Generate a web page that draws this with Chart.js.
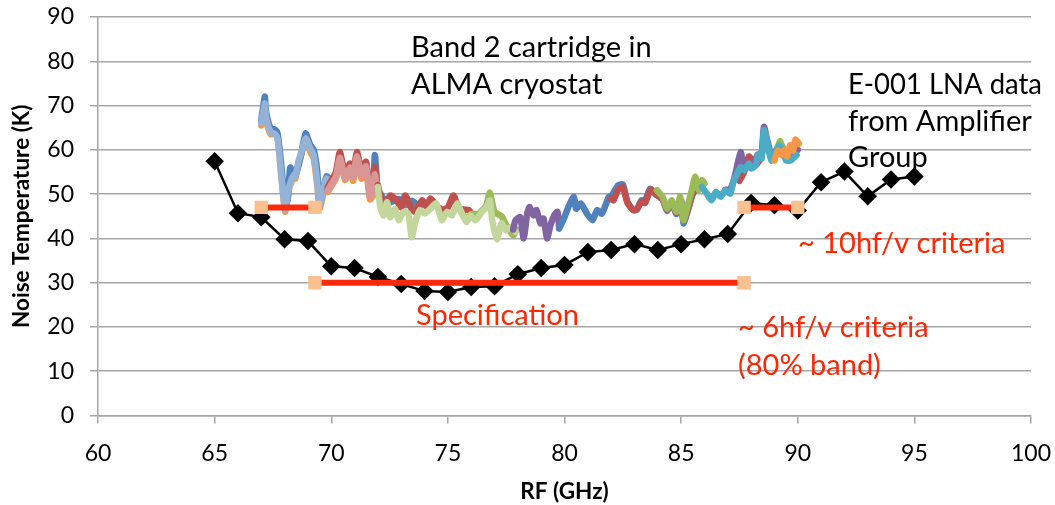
<!DOCTYPE html>
<html>
<head>
<meta charset="utf-8">
<script src="https://cdn.jsdelivr.net/npm/chart.js@4.4.1/dist/chart.umd.min.js"></script>
<style>
  html, body { margin: 0; padding: 0; background: #fff; }
  canvas { display: block; }
</style>
</head>
<body>
<canvas id="grafico" width="1055" height="505"></canvas>
<script>
// --- DADOS ---
// dados do LNA E-001 (losangos pretos)
const lnaFreq = [65, 66, 67, 68, 69, 70, 71, 72, 73, 74, 75, 76, 77, 78, 79, 80, 81, 82, 83, 84, 85, 86, 87, 88, 89, 90, 91, 92, 93, 94, 95];
const lnaTemp = [57.4, 45.7, 44.8, 39.8, 39.4, 33.7, 33.3, 31.3, 29.7, 28.1, 27.9, 29.0, 29.2, 31.9, 33.3, 34.0, 36.9, 37.4, 38.7, 37.4, 38.7, 39.8, 41.0, 48.0, 47.5, 46.3, 52.7, 55.1, 49.5, 53.3, 54.0];

// linhas de especificação
const crit10Freq1 = [67.0, 69.3];
const crit10Freq2 = [87.7, 90.0];
const crit10Temp = [47, 47];
const specFreq = [69.3, 87.7];
const specTemp = [30, 30];

// medidas do cartucho (traços coloridos)
const f1 = [67.0, 67.15, 67.2, 67.4, 67.6, 67.7, 67.85, 67.96, 68.03, 68.15, 68.24, 68.4, 68.46, 68.6, 68.7, 68.9, 69.1, 69.25, 69.4, 69.5, 69.67, 69.8, 70.03];
const azul1 = [66.7, 72.0, 68.7, 64.9, 64.5, 63.7, 57.0, 50.6, 46.8, 49.5, 56.0, 54.5, 54.3, 56.5, 58.8, 63.7, 61.1, 60.0, 55.1, 47.6, 51.3, 54.0, 52.8];
const azulClaro1 = [66.0, 70.5, 67.5, 64.0, 63.5, 62.5, 55.0, 49.0, 46.5, 50.5, 52.5, 54.3, 54.0, 57.5, 59.2, 62.6, 60.3, 58.8, 52.8, 47.6, 51.0, 53.5, 52.5];
const laranja1 = [65.5, 70.0, 67.0, 63.5, 63.8, 63.0, 54.5, 48.5, 46.0, 50.0, 52.0, 53.8, 53.5, 57.0, 58.6, 62.0, 59.6, 58.0, 52.0, 46.8, 50.2, 53.0, 52.0];

const f2 = [69.85, 70.0, 70.2, 70.37, 70.59, 70.8, 70.94, 71.1, 71.3, 71.49, 71.66, 71.8, 71.87, 71.97];
const vermelho2 = [51.6, 53.0, 55.0, 59.5, 54.6, 56.9, 54.6, 59.5, 55.4, 57.3, 50.1, 51.6, 56.1, 51.6];
const rosa2 = [50.8, 52.2, 54.0, 58.2, 53.6, 56.0, 53.8, 58.5, 54.2, 56.3, 49.5, 50.8, 54.5, 50.5];
const azul2 = [51.0, 52.5, 54.5, 58.5, 54.0, 56.0, 54.0, 59.0, 55.0, 57.0, 50.5, 52.0, 58.8, 51.8];
const laranja2 = [50.5, 51.8, 53.5, 57.8, 53.2, 55.5, 53.0, 58.0, 53.5, 55.5, 48.8, 50.0, 54.0, 49.8];

const f3 = [72.0, 72.1, 72.25, 72.39, 72.53, 72.74, 72.89, 73.1, 73.3, 73.45, 73.6, 73.8, 74.0, 74.25, 74.5, 74.74, 74.96, 75.17, 75.4, 75.6, 75.8, 75.96, 76.17, 76.3, 76.46, 76.67, 76.8, 76.9, 77.1, 77.3, 77.5, 77.7, 77.9];
const verdeClaro3 = [51.6, 47.1, 45.2, 48.2, 44.8, 46.7, 44.1, 46.0, 45.6, 40.3, 43.7, 46.4, 45.6, 46.7, 47.9, 44.1, 46.0, 45.2, 47.9, 45.6, 43.7, 45.2, 44.1, 44.8, 46.0, 47.1, 48.6, 44.1, 39.8, 43.4, 41.8, 42.6, 41.5];
const f3v = [72.0, 72.1, 72.3, 72.53, 72.8, 73.0, 73.17, 73.4, 73.6, 73.9, 74.1, 74.25, 74.5, 74.75, 75.0, 75.24, 75.45, 75.7, 75.9, 76.1];
const vermelho3 = [52.0, 49.7, 47.5, 49.7, 48.6, 47.0, 49.7, 47.1, 46.0, 48.6, 47.1, 49.0, 47.5, 46.5, 47.0, 49.7, 47.0, 46.5, 46.4, 45.0];
const f3a = [72.0, 72.4, 72.9, 73.2, 73.45, 73.8];
const azul3 = [51.0, 48.0, 48.9, 47.5, 48.5, 47.0];
const f3g = [75.5, 75.8, 76.0, 76.3, 76.5, 76.65, 76.8, 77.0, 77.3, 77.5, 77.8, 77.95];
const verde3 = [46.5, 44.5, 45.5, 45.5, 46.5, 47.5, 50.3, 46.0, 45.0, 43.0, 40.7, 42.0];

const f4 = [77.8, 77.9, 78.1, 78.25, 78.4, 78.5, 78.67, 78.8, 78.97, 79.1, 79.25, 79.4, 79.56, 79.7, 79.77];
const roxo4 = [42.0, 44.1, 44.8, 40.0, 45.6, 47.1, 45.2, 46.4, 43.4, 44.5, 40.0, 43.0, 45.2, 46.0, 42.6];

const f5 = [79.77, 80.0, 80.2, 80.4, 80.5, 80.7, 80.96, 81.2, 81.4, 81.6, 81.9, 82.03, 82.3, 82.5, 82.7, 82.95, 83.1, 83.3, 83.45, 83.67, 83.9, 84.2, 84.4, 84.6, 84.8, 85.0, 85.1, 85.3, 85.5, 85.7, 85.9];
const azul5 = [42.2, 44.8, 47.5, 49.4, 46.7, 47.9, 45.6, 44.1, 46.4, 45.6, 49.4, 49.7, 52.0, 52.2, 48.2, 46.4, 46.5, 48.6, 48.5, 51.2, 50.0, 49.0, 46.2, 48.0, 45.5, 48.5, 43.4, 46.5, 50.0, 51.5, 52.5];
const f6 = [82.0, 82.1, 82.3, 82.5, 82.7, 82.95, 83.1, 83.3, 83.45, 83.7, 83.95, 84.2, 84.4, 84.6, 84.8, 85.0, 85.1, 85.3, 85.5, 85.7, 85.9];
const vermelho6 = [49.0, 48.6, 51.0, 51.6, 48.0, 46.4, 46.5, 48.3, 48.0, 51.0, 49.8, 48.8, 46.5, 48.2, 45.8, 48.6, 44.0, 46.8, 50.3, 51.8, 52.8];
const f7 = [83.96, 84.2, 84.4, 84.6, 84.8, 84.96, 85.1, 85.25, 85.46, 85.6, 85.75, 85.9, 86.0];
const verde7 = [50.9, 49.4, 46.7, 48.6, 46.0, 49.4, 44.1, 46.7, 50.9, 53.9, 50.9, 53.1, 52.4];

const f8 = [85.9, 86.1, 86.3, 86.5, 86.7, 86.9, 87.1, 87.24, 87.4, 87.55, 87.7, 87.9, 88.0, 88.2, 88.3, 88.45, 88.55, 88.7, 88.87, 89.0, 89.2, 89.35, 89.5, 89.7, 89.95];
const ciano8 = [51.6, 50.1, 48.6, 50.5, 49.4, 50.9, 50.1, 52.7, 54.6, 56.1, 55.4, 56.9, 55.8, 56.5, 58.8, 58.0, 64.5, 61.4, 57.6, 59.1, 61.0, 59.9, 57.6, 57.6, 58.8];
const f9 = [86.9, 87.1, 87.3, 87.55, 87.7, 87.9, 88.1, 88.3, 88.45, 88.55, 88.7, 88.9, 89.1, 89.3, 89.5, 89.7, 90.0];
const roxo9 = [51.0, 51.0, 54.0, 59.5, 55.5, 56.5, 57.0, 59.0, 59.0, 65.2, 62.0, 58.5, 60.0, 61.0, 59.0, 58.0, 60.0];
const f9v = [87.5, 87.7, 87.9, 88.0, 88.2, 88.4];
const vermelho9 = [53.0, 55.0, 58.5, 58.0, 56.5, 58.0];
const f9g = [88.7, 88.9, 89.1, 89.25, 89.4];
const verde9 = [60.0, 58.5, 60.0, 62.0, 59.0];
const f10 = [89.0, 89.15, 89.3, 89.45, 89.55, 89.67, 89.8, 89.9, 90.05];
const laranja10 = [57.6, 59.8, 58.8, 60.0, 58.5, 61.0, 59.8, 62.3, 61.4];

// paleta padrão do Excel
const COR = {
    azul: '#4F81BD', vermelho: '#C0504D', verde: '#9BBB59', roxo: '#8064A2',
    ciano: '#4BACC6', laranja: '#F79646', azulClaro: '#95B3D7', rosa: '#D99694',
    verdeClaro: '#C3D69B'
};

const pares = (xs, ys) => xs.map((x, i) => ({ x: x, y: ys[i] }));

function traco(xs, ys, cor, ordem) {
    return {
        data: pares(xs, ys),
        borderColor: cor,
        borderWidth: 6.5,
        pointRadius: 0,
        tension: 0.2,
        borderJoinStyle: 'round',
        borderCapStyle: 'round',
        order: ordem
    };
}

function criterio(xs, ys) {
    return {
        data: pares(xs, ys),
        borderColor: '#FF2A0A',
        borderWidth: 6,
        pointStyle: 'rect',
        pointRadius: 9.5,
        pointBackgroundColor: '#FAC090',
        pointBorderColor: '#FAC090',
        pointBorderWidth: 0,
        order: 0
    };
}

const datasets = [
    criterio(crit10Freq1, crit10Temp),
    criterio(crit10Freq2, crit10Temp),
    criterio(specFreq, specTemp),
    {
        data: pares(lnaFreq, lnaTemp),
        borderColor: '#000',
        borderWidth: 2.5,
        pointStyle: 'rectRot',
        pointRadius: 7.5,
        pointBackgroundColor: '#000',
        pointBorderColor: '#000',
        order: 1
    },
    traco(f10, laranja10, COR.laranja, 2),
    traco(f8, ciano8, COR.ciano, 3),
    traco(f9g, verde9, COR.verde, 4),
    traco(f9, roxo9, COR.roxo, 5),
    traco(f9v, vermelho9, COR.vermelho, 6),
    traco(f7, verde7, COR.verde, 7),
    traco(f6, vermelho6, COR.vermelho, 8),
    traco(f5, azul5, COR.azul, 9),
    traco(f4, roxo4, COR.roxo, 10),
    traco(f3, verdeClaro3, COR.verdeClaro, 11),
    traco(f3g, verde3, COR.verde, 12),
    traco(f3v, vermelho3, COR.vermelho, 13),
    traco(f3a, azul3, COR.azul, 14),
    traco(f2, rosa2, COR.rosa, 15),
    traco(f2, vermelho2, COR.vermelho, 16),
    traco(f2, azul2, COR.azul, 17),
    traco(f2, laranja2, COR.laranja, 18),
    traco(f1, azulClaro1, COR.azulClaro, 19),
    traco(f1, azul1, COR.azul, 20),
    traco(f1, laranja1, COR.laranja, 21)
];

// textos soltos sobre o gráfico
const textos = [
    { t: 'Band 2 cartridge in', x: 411, y: 48, cor: '#000' },
    { t: 'ALMA cryostat', x: 411, y: 85, cor: '#000' },
    { t: 'E-001 LNA data', x: 848, y: 85, cor: '#000', max: 194 },
    { t: 'from Amplifier', x: 848, y: 122, cor: '#000' },
    { t: 'Group', x: 848, y: 158, cor: '#000' },
    { t: '~ 10hf/v criteria', x: 798, y: 244, cor: '#FF2600' },
    { t: 'Specification', x: 416, y: 316, cor: '#FF2600' },
    { t: '~ 6hf/v criteria', x: 738, y: 328, cor: '#FF2600' },
    { t: '(80% band)', x: 738, y: 366, cor: '#FF2600' }
];

const FONTE = 'Lato, "Open Sans", sans-serif';

const pluginTextos = {
    id: 'textos',
    afterDatasetsDraw(chart) {
        const ctx = chart.ctx;
        ctx.save();
        ctx.font = '29px ' + FONTE;
        ctx.textBaseline = 'middle';
        ctx.textAlign = 'left';
        textos.forEach(item => {
            ctx.fillStyle = item.cor;
            if (item.max) ctx.fillText(item.t, item.x, item.y, item.max);
            else ctx.fillText(item.t, item.x, item.y);
        });
        ctx.restore();
    }
};

const grade = '#A6A6A6';

// tira o espaço extra que o Chart.js reserva para os rótulos das pontas
function semSobra(s) {
    s.paddingTop = 0;
    s.paddingBottom = 0;
    s.paddingLeft = 0;
    s.paddingRight = 0;
}

new Chart(document.getElementById('grafico'), {
    type: 'line',
    data: { datasets: datasets },
    plugins: [pluginTextos],
    options: {
        responsive: false,
        animation: false,
        layout: { padding: { top: 17, right: 24, left: 0, bottom: 0 } },
        plugins: { legend: { display: false }, tooltip: { enabled: false } },
        scales: {
            x: {
                type: 'linear',
                min: 60,
                max: 100,
                ticks: { stepSize: 5, color: '#000', font: { family: FONTE, size: 23 }, padding: 16, maxRotation: 0 },
                grid: { drawOnChartArea: false, drawTicks: true, tickLength: 8, color: grade, lineWidth: 1.5 },
                border: { color: grade, width: 1.5 },
                title: { display: true, text: 'RF (GHz)', color: '#000', font: { family: FONTE, size: 22.5, weight: 'bold' }, padding: { top: 0, bottom: 0 } },
                afterFit: s => { s.height = 89.5; semSobra(s); }
            },
            y: {
                min: 0,
                max: 90,
                ticks: { stepSize: 10, color: '#000', font: { family: FONTE, size: 23 }, padding: 16 },
                grid: { color: grade, lineWidth: 1.5, tickLength: 8 },
                border: { color: grade, width: 1.5 },
                title: { display: true, text: 'Noise Temperature (K)', color: '#000', font: { family: FONTE, size: 22.5, weight: 'bold' }, padding: { top: 8, bottom: 0 } },
                afterFit: s => { s.width = 98; semSobra(s); }
            }
        }
    }
});
</script>
</body>
</html>
